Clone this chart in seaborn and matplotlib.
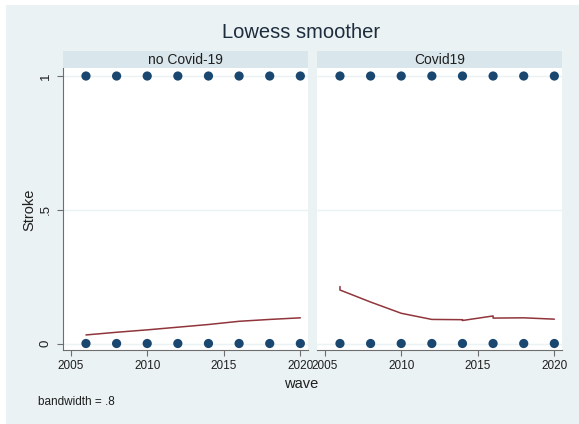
import matplotlib
matplotlib.use("Agg")
import matplotlib.pyplot as plt
import pandas as pd
import seaborn as sns
from matplotlib.patches import Rectangle

# Survey waves and the two observed outcome levels
waves = [2006, 2008, 2010, 2012, 2014, 2016, 2018, 2020]
stroke_levels = [0, 1]
panels = ["no Covid-19", "Covid19"]

# Lowess fits (bandwidth .8) per panel
fit_wave_nocovid = [2006, 2008, 2010, 2012, 2014, 2016, 2018, 2020]
fit_stroke_nocovid = [0.032, 0.042, 0.051, 0.061, 0.071, 0.083, 0.090, 0.096]
fit_wave_covid = [2006, 2006, 2008, 2010, 2012, 2014, 2014, 2016, 2016, 2018, 2020]
fit_stroke_covid = [0.213, 0.200, 0.155, 0.113, 0.090, 0.089, 0.086, 0.103, 0.095, 0.096, 0.091]

x_ticks = [2005, 2010, 2015, 2020]
y_ticks = [0, 0.5, 1]
y_ticklabels = ["0", ".5", "1"]

BG = "#eaf2f3"
STRIP = "#d9e6eb"
NAVY = "#1a476f"
MAROON = "#90353b"
AXIS = "#6e6e6e"
TEXT = "#1f1f1f"

sns.set_theme(style="white")
plt.rcParams["font.family"] = ["Liberation Sans", "DejaVu Sans"]

W, H = 579, 424
fig = plt.figure(figsize=(W / 100, H / 100), dpi=100, facecolor="white")

# outer graph region
fig.patches.append(Rectangle((6 / W, 0), 1, 1 - 5 / H, transform=fig.transFigure,
                             facecolor=BG, edgecolor="none", zorder=-10))

points = pd.DataFrame([(w, s) for s in stroke_levels for w in waves],
                      columns=["wave", "stroke"])
fits = [
    pd.DataFrame({"wave": fit_wave_nocovid, "stroke": fit_stroke_nocovid}),
    pd.DataFrame({"wave": fit_wave_covid, "stroke": fit_stroke_covid}),
]

lefts = [63, 317]
pw = 245
top, bottom = 68, 350
strip_h = 17

for i, (left, name) in enumerate(zip(lefts, panels)):
    ax = fig.add_axes([left / W, 1 - bottom / H, pw / W, (bottom - top) / H])
    ax.set_facecolor("white")
    for yv in y_ticks:
        ax.axhline(yv, color=BG, lw=1.0, zorder=0)
    sns.scatterplot(data=points, x="wave", y="stroke", ax=ax, color=NAVY,
                    s=44, edgecolor="none", zorder=3, legend=False)
    sns.lineplot(data=fits[i], x="wave", y="stroke", ax=ax, color=MAROON,
                 lw=1.1, sort=False, estimator=None, zorder=2, legend=False)
    ax.set_xlim(2004.5, 2020.5)
    ax.set_ylim(-0.0243, 1.030)
    ax.set_xticks(x_ticks)
    ax.set_xticklabels([str(t) for t in x_ticks], fontsize=8.5, color=TEXT)
    ax.set_xlabel("")
    ax.set_ylabel("")
    for sp in ["top", "right"]:
        ax.spines[sp].set_visible(False)
    ax.spines["bottom"].set_color(AXIS)
    ax.spines["bottom"].set_linewidth(0.8)
    ax.tick_params(axis="x", length=4, width=0.8, color=AXIS, pad=3, bottom=True)
    if i == 0:
        ax.set_yticks(y_ticks)
        ax.set_yticklabels(y_ticklabels, fontsize=9.5, color=TEXT,
                           rotation=90, va="center")
        ax.spines["left"].set_color(AXIS)
        ax.spines["left"].set_linewidth(0.8)
        ax.tick_params(axis="y", length=4, width=0.8, color=AXIS, pad=4, left=True)
    else:
        ax.set_yticks([])
        ax.spines["left"].set_visible(False)

    # panel strip
    fig.patches.append(Rectangle((left / W, 1 - top / H), pw / W, strip_h / H,
                                 transform=fig.transFigure, facecolor=STRIP,
                                 edgecolor="none", zorder=1))
    fig.text((left + pw / 2) / W, 1 - (top - strip_h / 2) / H, name,
             ha="center", va="center", fontsize=10, color=TEXT)

fig.text(301 / W, 1 - 33 / H, "Lowess smoother", ha="center", va="center",
         fontsize=14.5, color="#1e2d3d")
fig.text(301 / W, 1 - 384 / H, "wave", ha="center", va="center",
         fontsize=10.5, color=TEXT)
fig.text(29 / W, 1 - 210 / H, "Stroke", ha="center", va="center",
         rotation=90, fontsize=10.5, color=TEXT)
fig.text(38 / W, 1 - 402 / H, "bandwidth = .8", ha="left", va="center",
         fontsize=8.5, color=TEXT)

fig.savefig("out.png", dpi=100, facecolor=fig.get_facecolor())
